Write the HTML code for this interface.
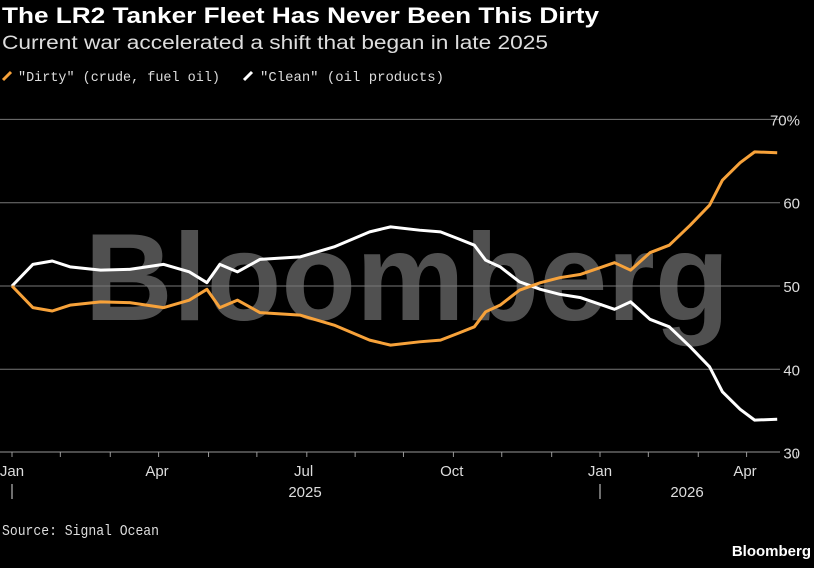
<!DOCTYPE html>
<html><head><meta charset="utf-8"><style>
body{margin:0;background:#000;width:814px;height:563px;overflow:hidden;font-family:"Liberation Sans",sans-serif;color:#fff}
</style></head><body>
<svg width="814" height="563" xmlns="http://www.w3.org/2000/svg">
<text x="2" y="23" font-size="22" font-weight="bold" fill="#fff" textLength="597" lengthAdjust="spacingAndGlyphs">The LR2 Tanker Fleet Has Never Been This Dirty</text>
<text x="2" y="49" font-size="19" fill="#ddd" textLength="546" lengthAdjust="spacingAndGlyphs">Current war accelerated a shift that began in late 2025</text>
<g font-family="Liberation Mono, monospace" font-size="14" fill="#ddd">
<line x1="3" y1="80" x2="11" y2="72" stroke="#f7a23a" stroke-width="3"/>
<text x="18" y="81" textLength="202" lengthAdjust="spacingAndGlyphs">"Dirty" (crude, fuel oil)</text>
<line x1="244" y1="80" x2="252" y2="72" stroke="#fff" stroke-width="3"/>
<text x="260" y="81" textLength="184" lengthAdjust="spacingAndGlyphs">"Clean" (oil products)</text>
</g>
<text x="407" y="320" font-size="124" font-weight="bold" fill="#505050" text-anchor="middle" textLength="645" lengthAdjust="spacingAndGlyphs">Bloomberg</text>
<g id="grid"></g>
<g id="xaxis"></g>
<g id="lines"></g>
<text x="2" y="535" font-size="15" font-family="Liberation Mono, monospace" fill="#ddd" textLength="157" lengthAdjust="spacingAndGlyphs">Source: Signal Ocean</text>
<text x="811" y="556" font-size="15" font-weight="bold" fill="#fff" text-anchor="end">Bloomberg</text>
</svg>
<script>
const days=[0,13,25,36,55,73,94,110,121,129,140,154,179,200,222,235,253,266,278,287,294,303,315,328,340,353,365,374,384,396,408,421,433,441,452,461,475];
const dirty=[50,47.4,47.0,47.7,48.1,48.0,47.4,48.3,49.6,47.4,48.3,46.8,46.5,45.3,43.5,42.9,43.3,43.5,44.4,45.1,46.9,47.7,49.5,50.4,51.0,51.4,52.2,52.8,51.9,54.0,54.9,57.3,59.7,62.7,64.8,66.1,66.0];
const clean=[50,52.6,53.0,52.3,51.9,52.0,52.6,51.7,50.4,52.6,51.7,53.2,53.5,54.7,56.5,57.1,56.7,56.5,55.6,54.9,53.1,52.3,50.5,49.6,49.0,48.6,47.8,47.2,48.1,46.0,45.1,42.7,40.3,37.3,35.2,33.9,34.0];
const yTicks=[30,40,50,60,70];
const monthLabels=["Jan","Apr","Jul","Oct","Jan","Apr"];
const monthLabelDays=[0,90,181,273,365,455];
const NS="http://www.w3.org/2000/svg";
const xs=d=>12+d*588/365;
const ys=v=>286-(v-50)*8.33;
function mk(tag,attrs,parent){const e=document.createElementNS(NS,tag);for(const k in attrs)e.setAttribute(k,attrs[k]);parent.appendChild(e);return e;}
const grid=document.getElementById('grid'),xa=document.getElementById('xaxis'),ln=document.getElementById('lines');
yTicks.forEach(t=>{
  if(t>30){const l=mk('line',{x1:0,x2:780,y1:ys(t),y2:ys(t),stroke:'#777','stroke-width':1},grid);
  
  }
  const tx=mk('text',{x:800,y:ys(t)+6,'font-size':15,fill:'#ddd','text-anchor':'end'},grid);
  tx.textContent=t===70?'70%':String(t);
  
  
});
const base=mk('line',{x1:0,x2:780,y1:452,y2:452,stroke:'#999','stroke-width':1},xa);


for(let m=0;m<17;m++){
  const d=Math.round(m*30.42);
  const t=mk('line',{x1:xs(d),x2:xs(d),y1:452,y2:457,stroke:'#999'},xa);
  
  
}
monthLabels.forEach((lab,i)=>{
  const tx=mk('text',{x:xs(monthLabelDays[i]),y:476,'font-size':15,fill:'#ddd','text-anchor':'middle'},xa);
  tx.textContent=lab;
  
  
});
[["2025",305],["2026",687]].forEach(([y,x])=>{
  const tx=mk('text',{x:x,y:497,'font-size':15,fill:'#ddd','text-anchor':'middle'},xa);
  tx.textContent=y;
  
  
});
[0,365].forEach(d=>{
  const s=mk('line',{x1:xs(d),x2:xs(d),y1:484,y2:499,stroke:'#ddd'},xa);
  
  
});
function path(vals,col,name){
  const p=mk('polyline',{points:days.map((d,i)=>xs(d)+','+ys(vals[i])).join(' '),fill:'none',stroke:col,'stroke-width':3,'stroke-linejoin':'round'},ln);
  
  
}
path(clean,'#ffffff','clean-line');
path(dirty,'#f7a23a','dirty-line');
</script>
</body></html>
